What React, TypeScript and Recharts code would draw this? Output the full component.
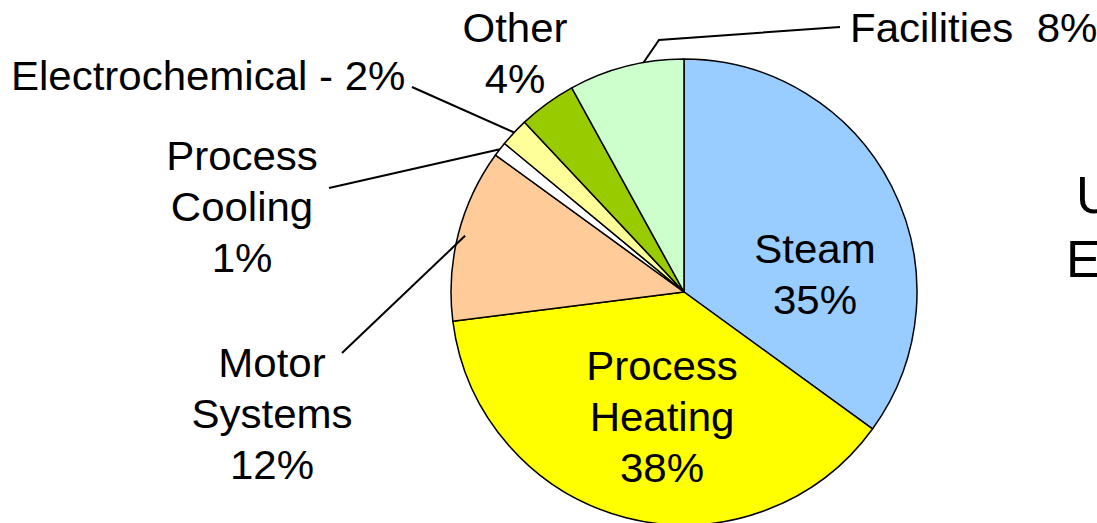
import React from 'react';
import { PieChart, Pie, Cell } from 'recharts';

// Slices, clockwise from 12 o'clock
const categories = ['Steam', 'Process Heating', 'Motor Systems', 'Process Cooling', 'Electrochemical', 'Other', 'Facilities'];
const shares = [35, 38, 12, 1, 2, 4, 8];
const labelLines = [
  ['Steam', '35%'],
  ['Process', 'Heating', '38%'],
  ['Motor', 'Systems', '12%'],
  ['Process', 'Cooling', '1%'],
  ['Electrochemical - 2%'],
  ['Other', '4%'],
  ['Facilities  8%'],
];
// title letters visible at the right edge
const titleLetters = ['U', 'E'];

const COLORS = ['#99ccff', '#ffff00', '#ffcc99', '#ffffff', '#ffff99', '#99cc00', '#ccffcc'];

const data = categories.map((name, i) => ({ name, value: shares[i] }));

// label placement: anchor x, first baseline, text-anchor, leader polyline (first point comes from the slice)
const LAYOUT: { x: number; y: number; anchor: 'start' | 'middle'; leader?: [number, number][]; shift?: number; rFrac?: number }[] = [
  { x: 815, y: 263, anchor: 'middle' },
  { x: 662, y: 380, anchor: 'middle' },
  { x: 272, y: 377, anchor: 'middle', leader: [[342, 353]], rFrac: 0.97 },
  { x: 242, y: 170, anchor: 'middle', leader: [[329, 188]] },
  { x: 11, y: 90, anchor: 'start', leader: [[412, 87]] },
  { x: 515, y: 42, anchor: 'middle' },
  { x: 850, y: 42, anchor: 'start', leader: [[659, 40], [840, 27]], shift: -4.4 },
];

const FONT = '"Liberation Sans", Arial, sans-serif';
const RAD = Math.PI / 180;

function renderLabel(props: any) {
  const { cx, cy, midAngle, outerRadius, index } = props;
  const l = LAYOUT[index];
  const lines = labelLines[index];
  let leader = null;
  if (l.leader) {
    const a = (midAngle + (l.shift || 0)) * RAD;
    const r = outerRadius * (l.rFrac || 1);
    const sx = cx + r * Math.cos(-a);
    const sy = cy + r * Math.sin(-a);
    const pts = [[sx, sy], ...l.leader].map(p => p.join(',')).join(' ');
    leader = <polyline points={pts} fill="none" stroke="#000" strokeWidth={2} />;
  }
  return (
    <g key={`lbl-${index}`}>
      {leader}
      {lines.map((t, j) => (
        <text
          key={j}
          x={0}
          y={0}
          transform={`translate(${l.x} ${l.y + j * 51}) scale(1.05 1)`}
          textAnchor={l.anchor}
          fontFamily={FONT}
          fontSize={40}
          fill="#000"
          style={{ whiteSpace: 'pre' }}
        >
          {t}
        </text>
      ))}
    </g>
  );
}

export default function App() {
  return (
    <div style={{ position: 'fixed', left: 0, top: 0, width: 1097, height: 523, background: '#fff', overflow: 'hidden' }}>
      <PieChart width={1097} height={523} margin={{ top: 0, right: 0, bottom: 0, left: 0 }}>
        <Pie
          data={data}
          dataKey="value"
          cx={684}
          cy={292}
          outerRadius={233}
          startAngle={90}
          endAngle={-270}
          stroke="#000"
          strokeWidth={1.5}
          labelLine={false}
          label={renderLabel}
          isAnimationActive={false}
        >
          {data.map((entry, index) => (
            <Cell key={`cell-${index}`} fill={COLORS[index]} />
          ))}
        </Pie>
        <text x={1076} y={213} fontFamily={FONT} fontSize={52} fill="#000">{titleLetters[0]}</text>
        <text x={1066} y={277} fontFamily={FONT} fontSize={52} fill="#000">{titleLetters[1]}</text>
      </PieChart>
    </div>
  );
}
